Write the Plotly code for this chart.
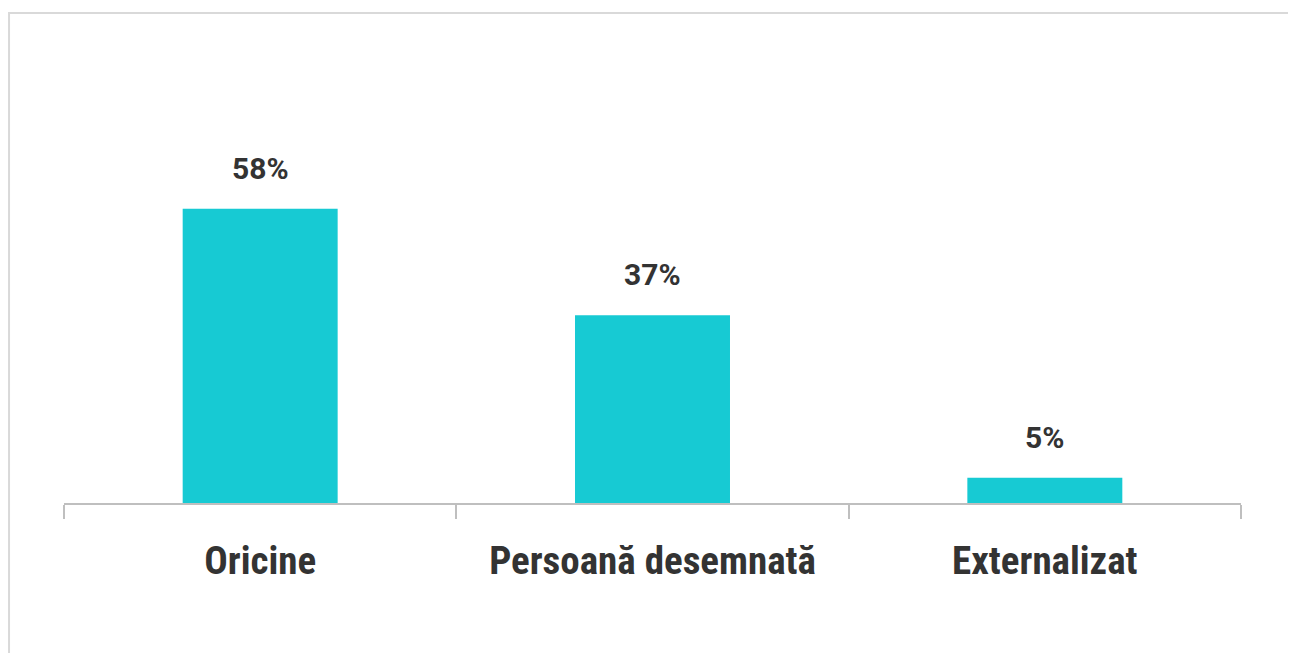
import plotly.graph_objects as go

categories = ["Oricine", "Persoană desemnată", "Externalizat"]
values = [58, 37, 5]
value_labels = ["58%", "37%", "5%"]

BAR_COLOR = "#17CAD3"
TEXT_COLOR = "#333333"
AXIS_COLOR = "#BFBFBF"

fig = go.Figure(
    go.Bar(
        x=categories,
        y=values,
        marker=dict(color=BAR_COLOR, line=dict(width=0)),
        width=0.395,
        hoverinfo="skip",
    )
)

for c, v, t in zip(categories, values, value_labels):
    fig.add_annotation(
        x=c, y=v, text=t, showarrow=False, yanchor="bottom", yshift=21,
        font=dict(family="Roboto", size=30, color=TEXT_COLOR, weight="bold"),
    )

# outer frame
fig.add_shape(
    type="rect", xref="paper", yref="paper",
    x0=-0.0467, x1=1.07, y0=-0.6, y1=1.380,
    line=dict(color="#D9D9D9", width=2), fillcolor="rgba(0,0,0,0)", layer="below",
)

fig.update_layout(
    width=1296, height=653,
    margin=dict(l=56, r=63, t=140, b=158, autoexpand=False),
    paper_bgcolor="white", plot_bgcolor="white",
    showlegend=False,
    bargap=0.6,
)
fig.update_xaxes(
    showline=True, linecolor=AXIS_COLOR, linewidth=2,
    ticks="outside", tickson="boundaries", ticklen=14, tickwidth=2, tickcolor=AXIS_COLOR,
    tickangle=0, automargin=False, ticklabelstandoff=22,
    tickfont=dict(family="Roboto Condensed, DejaVu Sans Condensed, Liberation Sans Narrow, sans-serif",
                  size=39, color=TEXT_COLOR, weight="bold"),
    showgrid=False, zeroline=False,
)
fig.update_yaxes(range=[0, 70], visible=False, showgrid=False, zeroline=False)

fig.write_html("out.html")
